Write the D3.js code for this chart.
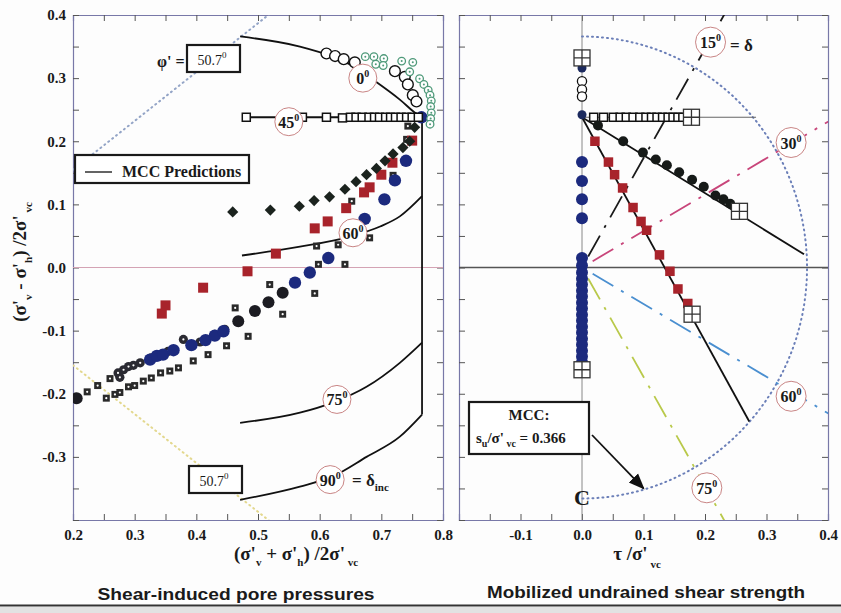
<!DOCTYPE html>
<html>
<head>
<meta charset="utf-8">
<script src="https://cdn.jsdelivr.net/npm/d3@7"></script>
<style>
body { margin: 0; background: #fdfdfd; }
svg { display: block; }
text { font-family: "Liberation Serif", "DejaVu Serif", serif; fill: #1a1a1a; }
.ttl { font-family: "Liberation Sans", Arial, sans-serif; }
</style>
</head>
<body>
<svg width="841" height="613"></svg>
<script>
'use strict';
// ---- left panel: x = (s'v+s'h)/2s'vc , y = (s'v-s'h)/2s'vc
let aMcc0 = [[0.471,0.366],[0.568,0.350],[0.621,0.334],[0.654,0.319],[0.693,0.293],[0.730,0.266],[0.759,0.242],[0.766,0.238]]
let aMcc45 = [[0.476,0.238],[0.766,0.238]]
let aMcc60 = [[0.474,0.019],[0.568,0.033],[0.649,0.049],[0.698,0.065],[0.730,0.081],[0.766,0.113]]
let aMcc75 = [[0.471,-0.246],[0.568,-0.230],[0.621,-0.214],[0.676,-0.189],[0.730,-0.151],[0.766,-0.119]]
let aMcc90 = [[0.471,-0.368],[0.568,-0.347],[0.621,-0.331],[0.676,-0.300],[0.730,-0.268],[0.766,-0.233]]
let aMccVert = [[0.766,0.238],[0.766,-0.233]]
let dFailSlope = 0.774 // sin(50.7)
let aFailX = [0.2, 0.52]

let aL0Open = [[0.611,0.339],[0.625,0.335],[0.639,0.330],[0.657,0.325],[0.722,0.311],[0.738,0.302],[0.743,0.290],[0.751,0.273],[0.757,0.263]]
let aL0Green = [[0.674,0.334],[0.688,0.334],[0.704,0.331],[0.691,0.322],[0.703,0.320],[0.733,0.327],[0.751,0.325],[0.746,0.310],[0.762,0.299],[0.769,0.290],[0.776,0.281],[0.779,0.273],[0.781,0.264],[0.780,0.255],[0.781,0.245],[0.780,0.236],[0.779,0.227]]
let aL45Sq = [[0.481,0.238],[0.572,0.238],[0.611,0.238],[0.637,0.237],[0.650,0.238],[0.659,0.238],[0.669,0.238],[0.680,0.238],[0.689,0.238],[0.697,0.238],[0.707,0.238],[0.715,0.238],[0.723,0.238],[0.732,0.238],[0.741,0.238],[0.750,0.238],[0.760,0.238]]
let aL30Dia = [[0.459,0.088],[0.520,0.091],[0.567,0.097],[0.591,0.106],[0.616,0.112],[0.641,0.124],[0.659,0.136],[0.676,0.147],[0.692,0.157],[0.706,0.169],[0.719,0.180],[0.735,0.190],[0.746,0.200],[0.754,0.222]]
let aL60Red = [[0.344,-0.073],[0.350,-0.060],[0.411,-0.032],[0.483,-0.006],[0.529,0.022],[0.592,0.062],[0.613,0.073],[0.643,0.094],[0.672,0.119],[0.681,0.127],[0.700,0.147],[0.718,0.166],[0.750,0.201]]
let aL90Blue = [[0.325,-0.146],[0.336,-0.140],[0.346,-0.138],[0.363,-0.131],[0.392,-0.123],[0.415,-0.115],[0.430,-0.108],[0.444,-0.101],[0.560,-0.024],[0.584,-0.008],[0.614,0.015],[0.673,0.077],[0.705,0.108],[0.722,0.138],[0.740,0.169],[0.765,0.238]]
let aLBlack = [[0.206,-0.207],[0.468,-0.085],[0.495,-0.069],[0.517,-0.055],[0.540,-0.040]]
let aLDotCirc = [[0.273,-0.167],[0.276,-0.174],[0.282,-0.162],[0.290,-0.157],[0.298,-0.155],[0.309,-0.151],[0.327,-0.143],[0.354,-0.133],[0.379,-0.114],[0.406,-0.118],[0.430,-0.106],[0.446,-0.098]]
let aLDotSq = [[0.223,-0.197],[0.240,-0.187],[0.260,-0.176],[0.254,-0.207],[0.268,-0.201],[0.276,-0.198],[0.290,-0.189],[0.300,-0.187],[0.314,-0.180],[0.327,-0.175],[0.342,-0.167],[0.357,-0.164],[0.371,-0.159],[0.395,-0.148],[0.419,-0.138],[0.449,-0.124],[0.463,-0.064],[0.484,-0.109],[0.519,-0.027],[0.540,-0.074],[0.592,-0.041],[0.595,0.034],[0.598,0.005],[0.630,0.036],[0.641,0.005],[0.681,0.047],[0.652,0.105],[0.719,0.146],[0.741,0.203],[0.743,0.224]]

// ---- right panel: x = tau/s'vc
let aR0Open = [[0,0.295],[0,0.282],[0,0.271]]
let aR0Blk = [[0,0.316],[0,0.242]]
let aR90Blue = [[0,0.167],[0,0.137],[0,0.108],[0,0.078],[0,0.015],[0,0.003],[0,-0.008],[0,-0.018],[0,-0.027],[0,-0.037],[0,-0.046],[0,-0.056],[0,-0.065],[0,-0.075],[0,-0.084],[0,-0.094],[0,-0.103],[0,-0.113],[0,-0.122],[0,-0.132],[0,-0.141],[0,-0.150]]
let aR45Sq = [[0.019,0.238],[0.035,0.238],[0.051,0.238],[0.062,0.238],[0.072,0.238],[0.083,0.238],[0.094,0.238],[0.104,0.238],[0.113,0.238],[0.122,0.238],[0.131,0.238],[0.140,0.238],[0.148,0.238],[0.156,0.238],[0.164,0.238]]
let aR30Blk = [[0.026,0.225],[0.067,0.200],[0.099,0.182],[0.120,0.171],[0.138,0.162],[0.158,0.151],[0.179,0.139],[0.198,0.128],[0.217,0.114],[0.230,0.108],[0.241,0.101]]
let aR60Red = [[0.021,0.200],[0.043,0.167],[0.053,0.147],[0.066,0.126],[0.083,0.095],[0.096,0.073],[0.105,0.059],[0.126,0.020],[0.143,-0.006],[0.156,-0.034],[0.172,-0.057]]
let aRCross = [[0,0.332],[0.178,0.238],[0.256,0.089],[0.179,-0.074],[0,-0.162]]
let aRMcc = [[[0,0.238],[0.283,0.238]],[[0,0.238],[0.361,0.021]],[[0,0.238],[0.272,-0.244]]]
let dSu = 0.366
let aDelta = [15, 30, 60, 75]
let aDeltaCol = ["#1a1a1a", "#c8457a", "#4a8fd0", "#b9c94a"]

// angle labels
let aLabL = [{t:"0",x:0.670,y:0.300},{t:"45",x:0.550,y:0.231},{t:"60",x:0.654,y:0.055},{t:"75",x:0.628,y:-0.209},{t:"90",x:0.617,y:-0.336}]
let aLabR = [{t:"15",x:0.209,y:0.357},{t:"30",x:0.340,y:0.198},{t:"60",x:0.340,y:-0.204},{t:"75",x:0.203,y:-0.349}]

let aYLabels = [-0.3,-0.2,-0.1,0,0.1,0.2,0.3,0.4]
let aXLabelsL = [0.2,0.3,0.4,0.5,0.6,0.7,0.8]
let aXLabelsR = [-0.1,0,0.1,0.2,0.3,0.4]

let eSvg = d3.select("svg")
let sY = d3.scaleLinear().domain([-0.4, 0.4]).range([520, 15])
let sXL = d3.scaleLinear().domain([0.2, 0.8]).range([73, 443])
let sXR = d3.scaleLinear().domain([-0.2, 0.4]).range([459, 828])

eSvg.append("rect").attr("width", 841).attr("height", 613).attr("fill", "#fdfdfd")
eSvg.append("rect").attr("y", 607).attr("width", 841).attr("height", 6).attr("fill", "#e2e2e2")
eSvg.append("line").attr("x1", 0).attr("x2", 841).attr("y1", 605.5).attr("y2", 605.5)
	.attr("stroke", "#333").attr("stroke-width", 2)

let defs = eSvg.append("defs")
defs.append("marker").attr("id", "arw").attr("viewBox", "0 0 10 10")
	.attr("refX", 9).attr("refY", 5).attr("markerWidth", 9).attr("markerHeight", 9)
	.attr("orient", "auto-start-reverse")
	.append("path").attr("d", "M0,1 L10,5 L0,9 z").attr("fill", "#111")

function isIn(arr, v) { return arr.some(a => Math.abs(a - v) < 1e-6) }

// frame + inward ticks on four sides
function addFrame(sx, xLabels, yLabels, id) {
	let g = eSvg.append("g")
	let [x0, x1] = sx.range()
	let xt = d3.range(sx.domain()[0], sx.domain()[1] + 1e-6, 0.05)
	let yt = d3.range(-0.4, 0.4001, 0.05)
	let fmt = d => d.toFixed(1)
	g.append("g").attr("transform", "translate(0,520)")
		.call(d3.axisBottom(sx).tickValues(xt).tickSize(-6).tickPadding(9)
			.tickFormat(d => isIn(xLabels, d) ? fmt(d) : ""))
	g.append("g").attr("transform", "translate(0,15)")
		.call(d3.axisTop(sx).tickValues(xt).tickSize(-6).tickFormat(""))
	g.append("g").attr("transform", `translate(${x0},0)`)
		.call(d3.axisLeft(sY).tickValues(yt).tickSize(-6).tickPadding(7)
			.tickFormat(d => isIn(yLabels, d) ? fmt(d) : ""))
	g.append("g").attr("transform", `translate(${x1},0)`)
		.call(d3.axisRight(sY).tickValues(yt).tickSize(-6).tickFormat(""))
	g.selectAll(".domain").attr("stroke", "#7878a8").attr("stroke-width", 1.2)
	g.selectAll(".tick line").attr("stroke", "#555")
	g.selectAll(".tick text").attr("font-family", "Liberation Serif, serif")
		.attr("font-size", 15).attr("font-weight", "bold").attr("fill", "#222")
	defs.append("clipPath").attr("id", id).append("rect")
		.attr("x", x0).attr("y", 15).attr("width", x1 - x0).attr("height", 505)
	return eSvg.append("g").attr("clip-path", `url(#${id})`)
}

function drawLine(g, sx, pts, stroke, w, dash) {
	return g.append("path").datum(pts)
		.attr("d", d3.line().x(d => sx(d[0])).y(d => sY(d[1])).curve(d3.curveMonotoneX))
		.attr("fill", "none").attr("stroke", stroke).attr("stroke-width", w)
		.attr("stroke-dasharray", dash || null).attr("stroke-linecap", dash ? "round" : "butt")
}

function dots(g, sx, pts, r, fill, stroke, sw) {
	g.append("g").selectAll("circle").data(pts).join("circle")
		.attr("cx", d => sx(d[0])).attr("cy", d => sY(d[1])).attr("r", r)
		.attr("fill", fill).attr("stroke", stroke || "none").attr("stroke-width", sw || 1)
}
function squares(g, sx, pts, s, fill, stroke, sw) {
	g.append("g").selectAll("rect").data(pts).join("rect")
		.attr("x", d => sx(d[0]) - s / 2).attr("y", d => sY(d[1]) - s / 2)
		.attr("width", s).attr("height", s)
		.attr("fill", fill).attr("stroke", stroke || "none").attr("stroke-width", sw || 1)
}
function diamonds(g, sx, pts, s, fill) {
	g.append("g").selectAll("path").data(pts).join("path")
		.attr("d", d => `M${sx(d[0])},${sY(d[1]) - s}l${s},${s}l${-s},${s}l${-s},${-s}z`)
		.attr("fill", fill)
}
function crossBoxes(g, sx, pts) {
	let gg = g.append("g").selectAll("g").data(pts).join("g")
		.attr("transform", d => `translate(${sx(d[0])},${sY(d[1])})`)
	gg.append("rect").attr("x", -8).attr("y", -8).attr("width", 16).attr("height", 16)
		.attr("fill", "#fff").attr("stroke", "#333").attr("stroke-width", 1.3)
	gg.append("path").attr("d", "M0,-8V8M-8,0H8").attr("stroke", "#333").attr("stroke-width", 1.3)
}
function degLabel(g, sx, d, r) {
	let gg = g.append("g").attr("transform", `translate(${sx(d.x)},${sY(d.y)})`)
	gg.append("circle").attr("r", r || 14).attr("fill", "#fff").attr("stroke", "#c98585").attr("stroke-width", 1)
	let t = gg.append("text").attr("text-anchor", "middle").attr("y", 6)
		.attr("font-size", 16).attr("font-weight", "bold")
	t.append("tspan").text(d.t)
	t.append("tspan").attr("dy", -7).attr("font-size", 10).text("0")
	return gg
}

// ================= left panel
let gL = addFrame(sXL, aXLabelsL, aYLabels, "clipL")
gL.append("line").attr("x1", 73).attr("x2", 443).attr("y1", sY(0)).attr("y2", sY(0))
	.attr("stroke", "#d4a3b4").attr("stroke-width", 1.2)
drawLine(gL, sXL, aFailX.map(x => [x, x * dFailSlope]), "#93a4c6", 2, "1,4")
drawLine(gL, sXL, aFailX.map(x => [x, -x * dFailSlope]), "#e3d88e", 2, "1,4")
;[aMcc0, aMcc45, aMcc60, aMcc75, aMcc90, aMccVert].forEach(p => drawLine(gL, sXL, p, "#111", 1.8))

squares(gL, sXL, aLDotSq, 7, "#2a2a2a")
dots(gL, sXL, aLDotSq, 1.1, "#fff")
dots(gL, sXL, aLDotCirc, 4.6, "#2a2a32")
dots(gL, sXL, aLDotCirc, 1.1, "#fff")
dots(gL, sXL, aLBlack, 6, "#1c1c22")
dots(gL, sXL, aL90Blue, 6.2, "#1c2a7e")
squares(gL, sXL, aL60Red, 10, "#a8232b")
diamonds(gL, sXL, aL30Dia, 5.6, "#1b231e")
squares(gL, sXL, aL45Sq, 8, "#fff", "#111", 1.5)
dots(gL, sXL, aL0Open, 5.4, "#fff", "#111", 1.4)
dots(gL, sXL, aL0Green, 3.8, "#fff", "#4f9a7a", 1.3)
dots(gL, sXL, aL0Green, 1, "#4f9a7a")

aLabL.forEach(d => degLabel(gL, sXL, d))
eSvg.append("text").attr("x", 352).attr("y", 486).attr("font-size", 17).attr("font-weight", "bold")
	.call(t => { t.append("tspan").text("= δ"); t.append("tspan").attr("dy", 5).attr("font-size", 11).text("inc") })

// phi' boxes
eSvg.append("text").attr("x", 157).attr("y", 67).attr("font-size", 16).attr("font-weight", "bold").text("φ' =")
function phiBox(x, y) {
	eSvg.append("rect").attr("x", x).attr("y", y).attr("width", 53).attr("height", 27)
		.attr("fill", "#fff").attr("stroke", "#1a1a1a").attr("stroke-width", 2.2)
	eSvg.append("text").attr("x", x + 25).attr("y", y + 20).attr("text-anchor", "middle")
		.attr("font-size", 14).attr("fill", "#555")
		.call(t => { t.append("tspan").text("50.7"); t.append("tspan").attr("dy", -7).attr("font-size", 9).text("0") })
}
phiBox(187, 45)
phiBox(189, 466)

// legend
eSvg.append("rect").attr("x", 75).attr("y", 155).attr("width", 174).attr("height", 28)
	.attr("fill", "#fff").attr("stroke", "#1a1a1a").attr("stroke-width", 2.2)
eSvg.append("line").attr("x1", 85).attr("x2", 112).attr("y1", 172).attr("y2", 172).attr("stroke", "#222").attr("stroke-width", 1.4)
eSvg.append("text").attr("x", 122).attr("y", 177).attr("font-size", 16).attr("font-weight", "bold").text("MCC Predictions")

// ================= right panel
let gR = addFrame(sXR, aXLabelsR, [], "clipR")
gR.append("line").attr("x1", 459).attr("x2", 828).attr("y1", sY(0)).attr("y2", sY(0))
	.attr("stroke", "#555").attr("stroke-width", 1.6)
gR.append("line").attr("x1", sXR(0)).attr("x2", sXR(0)).attr("y1", 15).attr("y2", 520)
	.attr("stroke", "#888").attr("stroke-width", 1)

// undrained strength arc
let aArc = d3.range(0, 181, 3).map(a => [dSu * Math.sin(a * Math.PI / 180), dSu * Math.cos(a * Math.PI / 180)])
gR.append("path").datum(aArc).attr("d", d3.line().x(d => sXR(d[0])).y(d => sY(d[1])))
	.attr("fill", "none").attr("stroke", "#6b7fb8").attr("stroke-width", 2)
	.attr("stroke-dasharray", "1,4").attr("stroke-linecap", "round")

// delta direction lines (2 delta from vertical)
aDelta.forEach((dd, i) => {
	let a = 2 * dd * Math.PI / 180
	drawLine(gR, sXR, [[0.02 * Math.sin(a), 0.02 * Math.cos(a)], [0.47 * Math.sin(a), 0.47 * Math.cos(a)]],
		aDeltaCol[i], 1.8, "24,9,3,9")
})
gR.selectAll("path[stroke-dasharray='24,9,3,9']").attr("stroke-linecap", "butt")

drawLine(gR, sXR, aRMcc[0], "#666", 1.2)
drawLine(gR, sXR, aRMcc[1], "#111", 1.8)
drawLine(gR, sXR, aRMcc[2], "#111", 1.8)

dots(gR, sXR, aR90Blue, 6, "#1c2a7e")
dots(gR, sXR, aR0Open, 4.6, "#fff", "#111", 1.3)
dots(gR, sXR, aR0Blk, 4.5, "#1c2a5e")
squares(gR, sXR, aR45Sq, 8, "#fff", "#111", 1.5)
dots(gR, sXR, aR30Blk, 5, "#161a18")
squares(gR, sXR, aR60Red, 9.5, "#a8232b")
crossBoxes(gR, sXR, aRCross)

aLabR.forEach(d => degLabel(gR, sXR, d, 15))
eSvg.append("text").attr("x", 730).attr("y", 51).attr("font-size", 17).attr("font-weight", "bold").text("= δ")

// centre line symbol
eSvg.append("text").attr("x", sXR(0)).attr("y", 505).attr("text-anchor", "middle")
	.attr("font-size", 22).attr("font-weight", "bold").text("C")

// MCC su box + arrow
eSvg.append("rect").attr("x", 469).attr("y", 402).attr("width", 120).attr("height", 52)
	.attr("fill", "#fff").attr("stroke", "#1a1a1a").attr("stroke-width", 2.2)
eSvg.append("text").attr("x", 529).attr("y", 420).attr("text-anchor", "middle")
	.attr("font-size", 15).attr("font-weight", "bold").text("MCC:")
eSvg.append("text").attr("x", 476).attr("y", 443).attr("font-size", 15).attr("font-weight", "bold")
	.call(t => {
		t.append("tspan").text("s")
		t.append("tspan").attr("dy", 4).attr("font-size", 10).text("u")
		t.append("tspan").attr("dy", -4).text("/σ'")
		t.append("tspan").attr("dy", 4).attr("font-size", 10).text(" vc")
		t.append("tspan").attr("dy", -4).text(" = 0.366")
	})
eSvg.append("line").attr("x1", 592).attr("y1", 435).attr("x2", sXR(0.1)).attr("y2", sY(-0.35))
	.attr("stroke", "#111").attr("stroke-width", 1.8).attr("marker-end", "url(#arw)")

// ================= axis titles
function sigLabel(t, op) {
	t.append("tspan").text("(σ'")
	t.append("tspan").attr("dy", 6).attr("font-size", 11).text("v")
	t.append("tspan").attr("dy", -6).text(` ${op} σ'`)
	t.append("tspan").attr("dy", 6).attr("font-size", 11).text("h")
	t.append("tspan").attr("dy", -6).text(") /2σ'")
	t.append("tspan").attr("dy", 6).attr("font-size", 11).text(" vc")
}
eSvg.append("text").attr("transform", "translate(26,262) rotate(-90)").attr("text-anchor", "middle")
	.attr("font-size", 19).attr("font-weight", "bold").call(t => sigLabel(t, "-"))
eSvg.append("text").attr("x", 296).attr("y", 560).attr("text-anchor", "middle")
	.attr("font-size", 19).attr("font-weight", "bold").call(t => sigLabel(t, "+"))
eSvg.append("text").attr("x", 637).attr("y", 560).attr("text-anchor", "middle")
	.attr("font-size", 19).attr("font-weight", "bold")
	.call(t => {
		t.append("tspan").text("τ /σ'")
		t.append("tspan").attr("dy", 8).attr("font-size", 11).text(" vc")
	})

eSvg.append("text").attr("class", "ttl").attr("x", 236).attr("y", 600).attr("text-anchor", "middle")
	.attr("font-size", 17).attr("font-weight", "bold").attr("textLength", 277).attr("lengthAdjust", "spacingAndGlyphs")
	.text("Shear-induced pore pressures")
eSvg.append("text").attr("class", "ttl").attr("x", 646).attr("y", 598).attr("text-anchor", "middle")
	.attr("font-size", 17).attr("font-weight", "bold").attr("textLength", 318).attr("lengthAdjust", "spacingAndGlyphs")
	.text("Mobilized undrained shear strength")
</script>
</body>
</html>
